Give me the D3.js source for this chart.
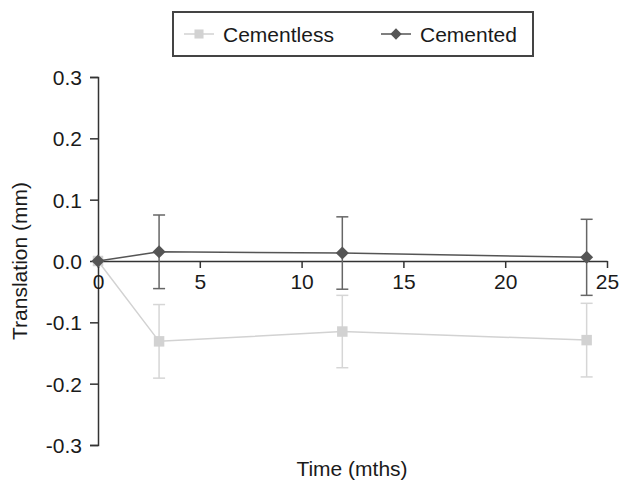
<!DOCTYPE html>
<html>
<head>
<meta charset="utf-8">
<script src="https://cdn.jsdelivr.net/npm/d3@7"></script>
<style>
  body { margin: 0; background: #fff; }
  text { font-family: "Liberation Sans", Arial, sans-serif; fill: #1a1a1a; }
</style>
</head>
<body>
<svg id="chart"></svg>
<script>
// Data
var months = [0, 3, 12, 24];
var cementless = [0, -0.131, -0.115, -0.129];
var cementlessErr = [0, 0.060, 0.059, 0.060];
var cemented = [0, 0.015, 0.013, 0.006];
var cementedErr = [0, 0.060, 0.059, 0.062];
var xTicks = [0, 5, 10, 15, 20, 25];
var yTicks = [-0.3, -0.2, -0.1, 0.0, 0.1, 0.2, 0.3];

var W = 621, H = 480;
var svg = d3.select('#chart').attr('width', W).attr('height', H);

var x = d3.scaleLinear().domain([0, 25]).range([98, 607]);
var y = d3.scaleLinear().domain([-0.3, 0.3]).range([445, 77]);

// y axis
var yAxis = d3.axisLeft(y).tickValues(yTicks).tickSize(8);
var gy = svg.append('g').attr('transform', 'translate(98,0)').call(yAxis);
gy.select('.domain').attr('stroke', '#333').attr('stroke-width', 1.5);
gy.selectAll('.tick line').attr('stroke', '#333').attr('stroke-width', 1.5);
gy.selectAll('.tick text').attr('font-size', 21).attr('x', -16).attr('dy', '0.36em')
  .text(function(d) { return d3.format('.1f')(d).replace('−', '-'); });

// x axis at zero
var xAxis = d3.axisBottom(x).tickValues(xTicks).tickSize(7).tickSizeOuter(0);
var gx = svg.append('g').attr('transform', 'translate(0,' + y(0) + ')').call(xAxis);
gx.select('.domain').attr('stroke', '#333').attr('stroke-width', 1.5);
gx.selectAll('.tick line').attr('stroke', '#333').attr('stroke-width', 1.5);
gx.selectAll('.tick text').attr('font-size', 21).attr('y', 13);

var series = [
  {name: 'Cementless', values: cementless, err: cementlessErr, color: '#d2d2d2', errColor: '#d6d6d6', rot: 0, size: 110},
  {name: 'Cemented', values: cemented, err: cementedErr, color: '#555', errColor: '#666', rot: 45, size: 85}
];

var line = d3.line()
  .x(function(d) { return x(d[0]); })
  .y(function(d) { return y(d[1]); });

series.forEach(function(s) {
  var pts = months.map(function(m, i) { return [m, s.values[i], s.err[i]]; });
  var g = svg.append('g');
  // error bars
  pts.filter(function(d) { return d[2] > 0; }).forEach(function(d) {
    var cx = x(d[0]), top = y(d[1] + d[2]), bot = y(d[1] - d[2]);
    g.append('line').attr('x1', cx).attr('x2', cx).attr('y1', top).attr('y2', bot)
      .attr('stroke', s.errColor).attr('stroke-width', 1.5);
    [top, bot].forEach(function(yy) {
      g.append('line').attr('x1', cx - 6).attr('x2', cx + 6).attr('y1', yy).attr('y2', yy)
        .attr('stroke', s.errColor).attr('stroke-width', 1.5);
    });
  });
  g.append('path').datum(pts).attr('d', line)
    .attr('fill', 'none').attr('stroke', s.color).attr('stroke-width', 1.5);
  g.selectAll('path.pt').data(pts).enter().append('path').attr('class', 'pt')
    .attr('transform', function(d) { return 'translate(' + x(d[0]) + ',' + y(d[1]) + ') rotate(' + s.rot + ')'; })
    .attr('d', d3.symbol().type(d3.symbolSquare).size(s.size))
    .attr('fill', s.color);
});

// legend
svg.append('rect').attr('x', 173).attr('y', 12).attr('width', 360).attr('height', 44)
  .attr('fill', '#fff').attr('stroke', '#444').attr('stroke-width', 2);
var legX = [184, 381];
series.forEach(function(s, i) {
  var lg = svg.append('g').attr('transform', 'translate(' + legX[i] + ',34)');
  lg.append('line').attr('x1', 0).attr('x2', 30).attr('stroke', s.color).attr('stroke-width', 1.5);
  lg.append('path').attr('transform', 'translate(15,0) rotate(' + s.rot + ')')
    .attr('d', d3.symbol().type(d3.symbolSquare).size(s.size * 0.75))
    .attr('fill', s.color);
  lg.append('text').attr('x', 39).attr('y', 7.5).attr('font-size', 21).text(s.name);
});

// axis titles
svg.append('text').attr('x', 352).attr('y', 476).attr('text-anchor', 'middle')
  .attr('font-size', 21).text('Time (mths)');
svg.append('text').attr('transform', 'translate(27,261) rotate(-90)')
  .attr('text-anchor', 'middle').attr('font-size', 21).text('Translation (mm)');
</script>
</body>
</html>
